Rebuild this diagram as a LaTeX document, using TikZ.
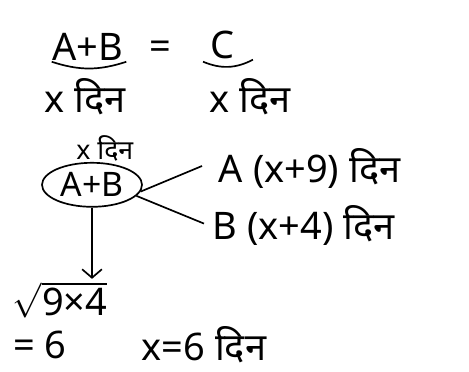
\documentclass[tikz,border=0pt]{standalone}
\usepackage{amsmath}
\usepackage{fontspec}
\setmainfont{Noto Sans}
\newfontfamily\hindi[Script=Devanagari]{Noto Sans}
\usetikzlibrary{arrows.meta,shapes,positioning,calc}

\tikzset{
  ink/.style={font=\fontsize{27}{31}\selectfont},
  smallink/.style={font=\fontsize{19}{22}\selectfont},
  pen/.style={line width=1.2pt,black},
}

\begin{document}
\begin{tikzpicture}
    \useasboundingbox (0,0) rectangle (11.725,9.3);

    % ── equation ──────────────────────────────────────────
    \node[ink] (lhs) at (2.2,8.12){A+B};
    \node[ink] (eq)  at (4.0,8.05){=};
    \node[ink] (rhs) at (5.55,8.18){C};
    \draw[pen] ($(lhs.south west)+(0.1,0.1)$) to[bend right=18] ($(lhs.south east)+(-0.05,0.1)$);
    \draw[pen] ($(rhs.south west)+(-0.05,0.05)$) to[bend right=25] ($(rhs.south east)+(0.35,0.1)$);
    \node[ink] (lday) at (2.12,6.88){x {\hindi दिन}};
    \node[ink] (rday) at (6.25,6.88){x {\hindi दिन}};

    % ── together, then each alone ─────────────────────────
    \node[smallink] (xday) at (2.62,5.6){x {\hindi दिन}};
    \node[ink,font=\fontsize{24}{28}\selectfont,draw,pen,ellipse,inner sep=0pt,
          minimum width=2.5cm,minimum height=1.1cm]
          (ab) at (2.3,4.68){A+B};
    \node[ink,anchor=west] (a) at (5.35,5.1){A (x+9) {\hindi दिन}};
    \node[ink,anchor=west] (b) at (5.2,3.66){B (x+4) {\hindi दिन}};
    \draw[pen] (ab.-8) -- ([xshift=-0.3cm,yshift=0.05cm]a.west);
    \draw[pen] (ab.-14) -- ([xshift=-0.1cm,yshift=0.05cm]b.west);

    % ── result ────────────────────────────────────────────
    \node[ink] (root) at (1.5,1.8){$\sqrt{\text{9×4}}$};
    \draw[pen,-{Straight Barb[length=6pt,width=14pt]}] (ab.south) -- ([yshift=-0.05cm]ab.south |- root.north);
    \node[ink] (six) at (1.0,0.68){= 6};
    \node[ink] (xsix) at (5.1,0.68){x=6 {\hindi दिन}};

\end{tikzpicture}
\end{document}
